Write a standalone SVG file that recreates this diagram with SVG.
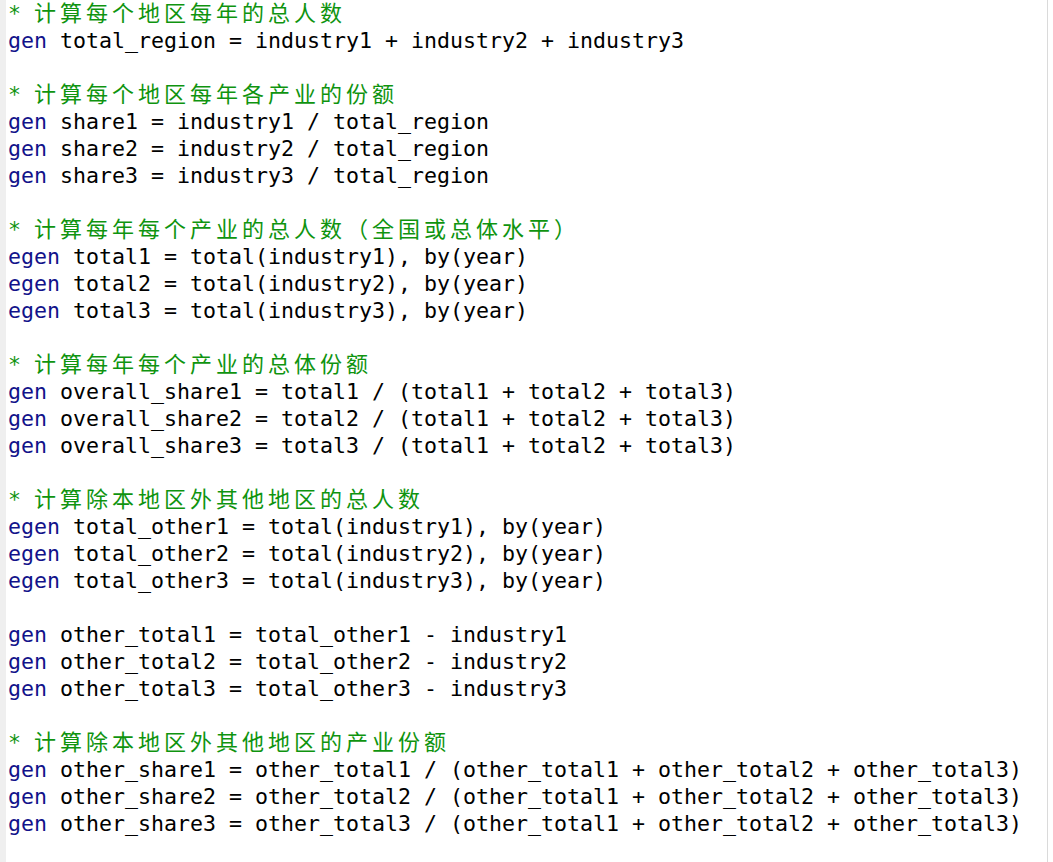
<svg xmlns="http://www.w3.org/2000/svg" width="1053" height="862" viewBox="0 0 1053 862">
<style>
.code{font-family:"DejaVu Sans Mono","Liberation Mono",monospace;font-size:21.6px;fill:#000000}
.k{fill:#12128a}
.c{fill:#0f940f}
.cj{font-family:"Noto Sans CJK SC","Noto Sans",sans-serif;font-size:22px;letter-spacing:4px;fill:#0f940f}
</style>
<rect x="0" y="0" width="1053" height="862" fill="#ffffff"/>
<rect x="0" y="0" width="6" height="862" fill="#efefef"/>
<line x1="1047.5" y1="0" x2="1047.5" y2="862" stroke="#dadada" stroke-width="1"/>
<g id="code">
<text class="code c" x="8" y="21">*</text><text class="cj" x="34" y="21">计算每个地区每年的总人数</text>
<text class="code" x="8" y="48"><tspan class="k">gen</tspan> total_region = industry1 + industry2 + industry3</text>
<text class="code c" x="8" y="102">*</text><text class="cj" x="34" y="102">计算每个地区每年各产业的份额</text>
<text class="code" x="8" y="129"><tspan class="k">gen</tspan> share1 = industry1 / total_region</text>
<text class="code" x="8" y="156"><tspan class="k">gen</tspan> share2 = industry2 / total_region</text>
<text class="code" x="8" y="183"><tspan class="k">gen</tspan> share3 = industry3 / total_region</text>
<text class="code c" x="8" y="237">*</text><text class="cj" x="34" y="237">计算每年每个产业的总人数（全国或总体水平）</text>
<text class="code" x="8" y="264"><tspan class="k">egen</tspan> total1 = total(industry1), by(year)</text>
<text class="code" x="8" y="291"><tspan class="k">egen</tspan> total2 = total(industry2), by(year)</text>
<text class="code" x="8" y="318"><tspan class="k">egen</tspan> total3 = total(industry3), by(year)</text>
<text class="code c" x="8" y="372">*</text><text class="cj" x="34" y="372">计算每年每个产业的总体份额</text>
<text class="code" x="8" y="399"><tspan class="k">gen</tspan> overall_share1 = total1 / (total1 + total2 + total3)</text>
<text class="code" x="8" y="426"><tspan class="k">gen</tspan> overall_share2 = total2 / (total1 + total2 + total3)</text>
<text class="code" x="8" y="453"><tspan class="k">gen</tspan> overall_share3 = total3 / (total1 + total2 + total3)</text>
<text class="code c" x="8" y="507">*</text><text class="cj" x="34" y="507">计算除本地区外其他地区的总人数</text>
<text class="code" x="8" y="534"><tspan class="k">egen</tspan> total_other1 = total(industry1), by(year)</text>
<text class="code" x="8" y="561"><tspan class="k">egen</tspan> total_other2 = total(industry2), by(year)</text>
<text class="code" x="8" y="588"><tspan class="k">egen</tspan> total_other3 = total(industry3), by(year)</text>
<text class="code" x="8" y="642"><tspan class="k">gen</tspan> other_total1 = total_other1 - industry1</text>
<text class="code" x="8" y="669"><tspan class="k">gen</tspan> other_total2 = total_other2 - industry2</text>
<text class="code" x="8" y="696"><tspan class="k">gen</tspan> other_total3 = total_other3 - industry3</text>
<text class="code c" x="8" y="750">*</text><text class="cj" x="34" y="750">计算除本地区外其他地区的产业份额</text>
<text class="code" x="8" y="777"><tspan class="k">gen</tspan> other_share1 = other_total1 / (other_total1 + other_total2 + other_total3)</text>
<text class="code" x="8" y="804"><tspan class="k">gen</tspan> other_share2 = other_total2 / (other_total1 + other_total2 + other_total3)</text>
<text class="code" x="8" y="831"><tspan class="k">gen</tspan> other_share3 = other_total3 / (other_total1 + other_total2 + other_total3)</text>
</g>
</svg>
